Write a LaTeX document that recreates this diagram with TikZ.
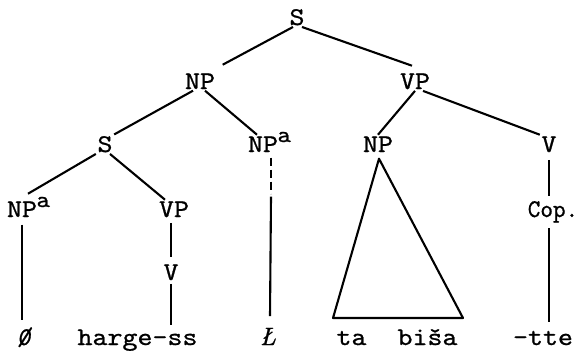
\documentclass[tikz,border=0pt]{standalone}
\usepackage{fontspec}
\newfontfamily\tw[FakeStretch=1.12,FakeBold=0.8]{lmmono10-regular.otf}
\newfontfamily\twnarrow[FakeStretch=0.94,FakeBold=0.8]{lmmono10-regular.otf}
\newfontfamily\twslant[FakeBold=0.8]{lmmonoslant10-regular.otf}
\newfontfamily\romit[FakeBold=0.8]{lmroman10-italic.otf}
% superscript "a" that takes no room in the node box
\newcommand{\npsup}{\rlap{\hspace{-0.5pt}\raisebox{10pt}[0pt][0pt]{\fontsize{23}{23}\selectfont a}}}
% typewriter overstrike: zero struck through with a slash
\newcommand{\nullsign}{{\twslant\makebox[0pt]{0}\makebox[0pt]{/}}}
\begin{document}
\begin{tikzpicture}[x=1pt,y=-1pt,
  lbl/.style={inner sep=1.5pt, anchor=base, font={\tw\fontsize{25.5}{30}\selectfont}},
  edge/.style={line width=2.1pt},
]
\useasboundingbox (0,0) rectangle (580,351);

% labels
\node[lbl] (S)    at (297,25)  {S};
\node[lbl] (NP)   at (200,89)  {NP};
\node[lbl] (VP)   at (415,89)  {VP};
\node[lbl] (S2)   at (105,152) {S};
\node[lbl] (NPa)  at (263,152) {NP\npsup};
\node[lbl] (NP3)  at (378,152) {NP};
\node[lbl] (V)    at (549,152) {V};
\node[lbl] (NPa1) at (22,217)  {NP\npsup};
\node[lbl] (VP2)  at (174,217) {VP};
\node[lbl, font={\twnarrow\fontsize{25.5}{30}\selectfont}] (Cop) at (553,217) {Cop.};
\node[lbl] (V2)   at (171,280) {V};

% leaves
\node[lbl, minimum width=14pt] (zero) at (24,345) {\nullsign};
\node[lbl] (harge) at (137.5,345) {harge-ss};
\node[lbl, font={\romit\fontsize{25}{30}\selectfont}] (Lstroke) at (268,345) {Ł};
\node[lbl] (ta)   at (351.5,345) {ta};
\node[lbl] (bisa) at (427.5,345) {biša};
\node[lbl] (tte)  at (543,345) {-tte};

% branches
\draw[edge] ([xshift=-4pt]S.south) -- ([shift={(6,-7)}]NP.north east);
\draw[edge] ([xshift=5pt]S.south) -- ([shift={(-3,-6)}]VP.north);
\draw[edge] ([xshift=-7pt]NP.south) -- (S2.north east);
\draw[edge] ([xshift=5pt]NP.south) -- ([xshift=-6pt]NPa.north);
\draw[edge] (VP.south) -- (NP3.north);
\draw[edge] ([xshift=8pt]VP.south) -- (V.north west);
\draw[edge] (S2.south west) -- ([shift={(6,-6)}]NPa1.north);
\draw[edge] ([xshift=5pt]S2.south) -- ([xshift=-9pt]VP2.north);

% vertical branches
\draw[edge, shorten <=6pt, shorten >=6pt] (NPa1.south) -- (NPa1.south |- zero.north);
\draw[edge, shorten <=4pt, shorten >=6pt] (V2.north |- VP2.south) -- (V2.north);
\draw[edge, shorten <=2pt, shorten >=3pt] (V2.south) -- (V2.south |- harge.north);
\draw[edge, shorten <=6pt, shorten >=3pt] (V.south) -- (V.south |- Cop.north);
\draw[edge, shorten <=4pt, shorten >=7pt] (V.south |- Cop.south) -- (V.south |- tte.north);

% broken then solid line under the second NP^a
\draw[edge, dash pattern=on 8pt off 4pt] ([shift={(8,4)}]NPa.south) -- ([shift={(8,40)}]NPa.south);
\draw[edge] ([shift={(8,43)}]NPa.south) -- ([shift={(2,-10)}]Lstroke.north);

% triangle over "ta bisa"
\coordinate (tri-l) at (333,318);
\coordinate (tri-r) at (463,318);
\draw[edge, line join=round] ([shift={(1,5)}]NP3.south) -- (tri-l) -- (tri-r) -- cycle;
\end{tikzpicture}
\end{document}
